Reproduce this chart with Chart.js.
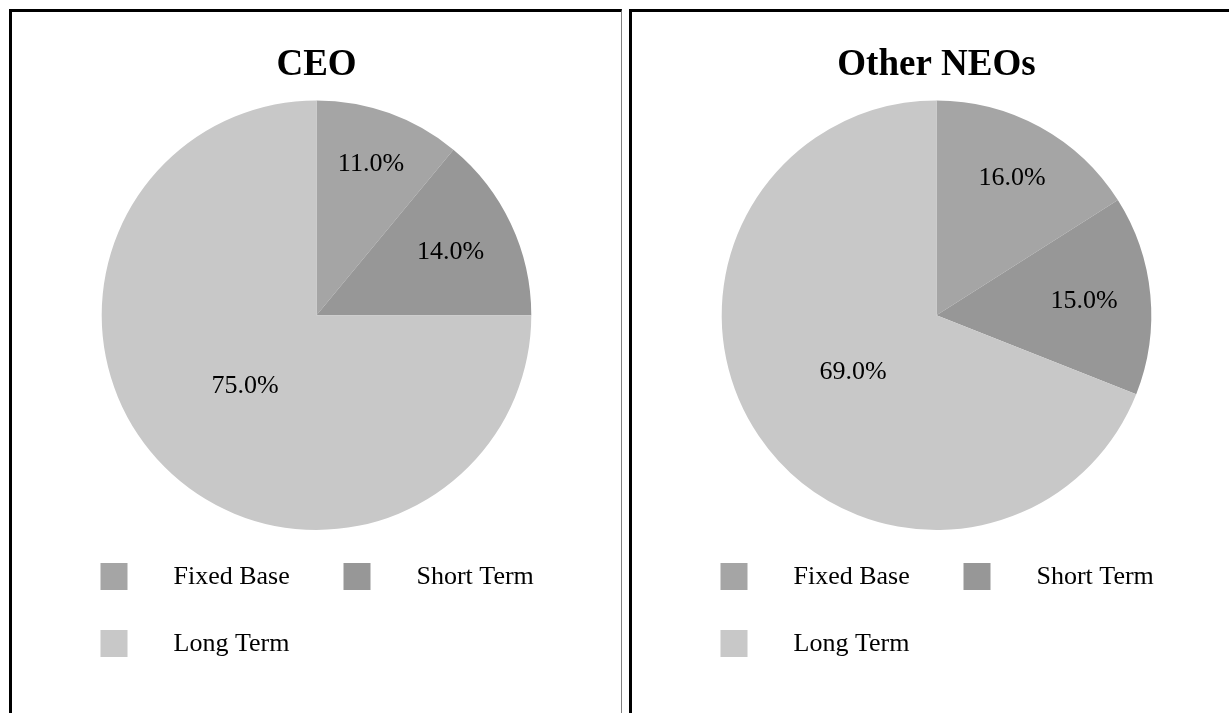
<!DOCTYPE html>
<html>
<head>
<meta charset="utf-8">
<script src="https://cdn.jsdelivr.net/npm/chart.js@4.4.1/dist/chart.umd.min.js"></script>
<style>
  body { margin: 0; background: #fff; overflow: hidden; }
  .panel { position: absolute; top: 9px; height: 710px; border-top: 3px solid #000; border-left: 3px solid #000; }
  #panelCeo { left: 9px; width: 609px; border-right: 1px solid #7f7f7f; }
  #panelNeo { left: 629px; width: 620px; }
  canvas { position: absolute; left: 0; top: 0; }
</style>
</head>
<body>
<div class="panel" id="panelCeo"><canvas id="ceoChart" width="609" height="701"></canvas></div>
<div class="panel" id="panelNeo"><canvas id="neoChart" width="609" height="701"></canvas></div>

<script>
/*VERILER*/
var categories = ["Fixed Base", "Short Term", "Long Term"];
var ceoValues = [11, 14, 75];
var neoValues = [16, 15, 69];
var chartTitles = ["CEO", "Other NEOs"];
var sliceColors = ["#a5a5a5", "#979797", "#c8c8c8"];
/*VERILER*/

var serif = "'Liberation Serif', 'Times New Roman', serif";

/*DILIM YUZDE ETIKETLERI*/
var sliceLabels = {
  id: "sliceLabels",
  afterDatasetsDraw: function (chart) {
    var ctx = chart.ctx;
    var data = chart.data.datasets[0].data;
    var total = data.reduce(function (a, b) { return a + b; }, 0);
    ctx.save();
    ctx.font = "26px " + serif;
    ctx.fillStyle = "#000";
    ctx.textAlign = "center";
    ctx.textBaseline = "middle";
    chart.getDatasetMeta(0).data.forEach(function (arc, i) {
      var p = arc.getProps(["x", "y", "startAngle", "endAngle", "outerRadius"], true);
      var mid = (p.startAngle + p.endAngle) / 2;
      var c = Math.cos(mid), s = Math.sin(mid);
      var text = data[i].toFixed(1) + "%";
      var r;
      if (data[i] / total > 0.5) {
        r = p.outerRadius * 0.47;
      } else {
        // kutunun en uzak kosesi yaricapin %85'inde kalsin
        var w = ctx.measureText(text).width / 2, h = 9;
        var b = Math.abs(c) * w + Math.abs(s) * h;
        var D = p.outerRadius * 0.85;
        r = -b + Math.sqrt(b * b - (w * w + h * h - D * D));
      }
      ctx.fillText(text, p.x + c * r, p.y + s * r);
    });
    ctx.restore();
  }
};

/*ALTTAKI LEJANT*/
var gridLegend = {
  id: "gridLegend",
  afterDraw: function (chart) {
    var ctx = chart.ctx;
    var area = chart.chartArea;
    var cx = (area.left + area.right) / 2;
    ctx.save();
    ctx.font = "26px " + serif;
    ctx.textAlign = "left";
    ctx.textBaseline = "middle";
    chart.data.labels.forEach(function (label, i) {
      var sx = cx - 216 + (i % 2) * 243;
      var sy = area.bottom + 33 + Math.floor(i / 2) * 67;
      ctx.fillStyle = chart.data.datasets[0].backgroundColor[i];
      ctx.fillRect(sx, sy, 27, 27);
      ctx.fillStyle = "#000";
      ctx.fillText(label, sx + 73, sy + 14);
    });
    ctx.restore();
  }
};

function pastaCiz(canvasId, title, values) {
  var ctx = document.getElementById(canvasId);
  return new Chart(ctx, {
    type: "pie",
    data: {
      labels: categories,
      datasets: [{
        data: values,
        backgroundColor: sliceColors,
        borderWidth: 0,
        hoverOffset: 0,
        offset: 0
      }]
    },
    options: {
      responsive: false,
      animation: false,
      events: [],
      layout: { padding: { top: 0, left: 0, right: 0, bottom: 183 } },
      plugins: {
        legend: { display: false },
        tooltip: { enabled: false },
        title: {
          display: true,
          text: title,
          color: "#000",
          font: { family: serif, size: 37, weight: "bold" },
          padding: { top: 31, bottom: 13 }
        }
      }
    },
    plugins: [sliceLabels, gridLegend]
  });
}

pastaCiz("ceoChart", chartTitles[0], ceoValues);
pastaCiz("neoChart", chartTitles[1], neoValues);
</script>
</body>
</html>
